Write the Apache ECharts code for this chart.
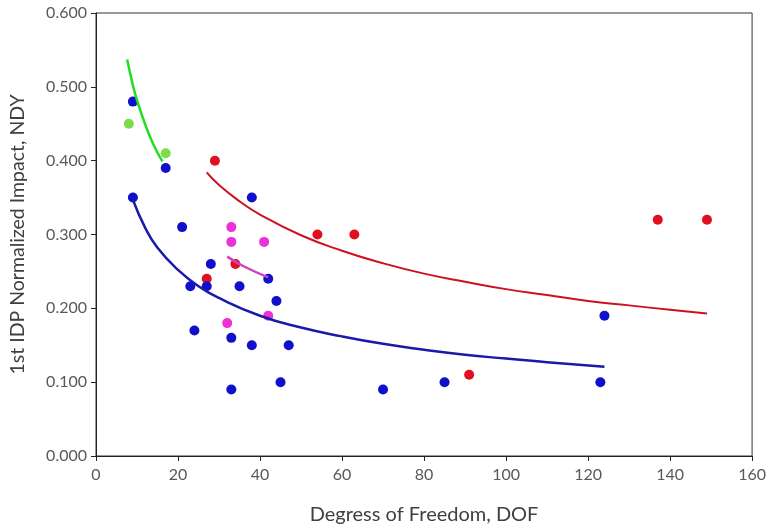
<!DOCTYPE html>
<html>
<head>
<meta charset="utf-8">
<script src="https://cdn.jsdelivr.net/npm/echarts@6/dist/echarts.min.js"></script>
<style>html,body{margin:0;padding:0;background:#fff;}#c{width:769px;height:530px;}</style>
</head>
<body>
<div id="c"></div>
<script>
// Data
const xTicks = [0, 20, 40, 60, 80, 100, 120, 140, 160];
const yTicks = [0, 0.1, 0.2, 0.3, 0.4, 0.5, 0.6];

const bluePoints = [
  [9, 0.480], [17, 0.390], [9, 0.350], [38, 0.350], [21, 0.310], [28, 0.260],
  [23, 0.230], [27, 0.230], [35, 0.230], [42, 0.240], [44, 0.210], [24, 0.170],
  [33, 0.160], [38, 0.150], [47, 0.150], [33, 0.090], [45, 0.100], [70, 0.090],
  [85, 0.100], [123, 0.100], [124, 0.190]
];
const redPoints = [
  [29, 0.400], [27, 0.240], [34, 0.260], [54, 0.300], [63, 0.300],
  [91, 0.110], [137, 0.320], [149, 0.320]
];
const magentaPoints = [
  [33, 0.310], [33, 0.290], [41, 0.290], [32, 0.180], [42, 0.190]
];
const greenPoints = [
  [8, 0.450], [17, 0.410]
];

// Trend curves
const blueCurve = [
  [9, 0.347], [12, 0.309], [15, 0.282], [20, 0.252], [25, 0.230], [30, 0.214],
  [40, 0.190], [50, 0.174], [60, 0.162], [70, 0.152], [80, 0.144], [90, 0.137],
  [100, 0.132], [110, 0.127], [124, 0.121]
];
const redCurve = [
  [27, 0.384], [30, 0.367], [35, 0.345], [40, 0.327], [50, 0.299], [60, 0.278],
  [70, 0.261], [80, 0.247], [90, 0.236], [100, 0.226], [110, 0.218], [120, 0.210],
  [130, 0.204], [140, 0.198], [149, 0.193]
];
const greenCurve = [
  [7.6, 0.537], [9, 0.502], [10, 0.482], [12, 0.449], [14, 0.422], [16.2, 0.399]
];
const magentaCurve = [
  [32, 0.270], [36, 0.257], [42, 0.242]
];

const chart = echarts.init(document.getElementById('c'), null, {renderer: 'canvas'});
const font = 'Lato, Open Sans, sans-serif';
const labelColor = '#595959';

function line(data, color, w) {
  return {type: 'line', data: data, smooth: true, showSymbol: false, symbol: 'none',
    lineStyle: {color: color, width: w}, silent: true, z: 3};
}
function dots(data, color) {
  return {type: 'scatter', data: data, symbolSize: 10, itemStyle: {color: color, opacity: 1}, z: 2};
}

chart.setOption({
  animation: false,
  backgroundColor: '#ffffff',
  grid: {left: 96, top: 13, right: 16, bottom: 69, show: true, borderColor: '#333', borderWidth: 1, backgroundColor: 'transparent'},
  xAxis: {
    type: 'value', min: xTicks[0], max: xTicks[xTicks.length - 1], interval: 20,
    name: 'Degress of Freedom, DOF', nameLocation: 'middle', nameGap: 49,
    nameTextStyle: {fontFamily: font, fontSize: 20, color: '#404040'},
    axisLine: {show: true, lineStyle: {color: '#222', width: 1}},
    axisTick: {show: true, length: 5, lineStyle: {color: '#222'}},
    axisLabel: {fontFamily: font, fontSize: 16, color: labelColor, margin: 11},
    splitLine: {show: false}
  },
  yAxis: {
    type: 'value', min: yTicks[0], max: yTicks[yTicks.length - 1], interval: 0.1,
    name: '1st IDP Normalized Impact, NDY', nameLocation: 'middle', nameGap: 68,
    nameTextStyle: {fontFamily: font, fontSize: 19.5, color: '#404040'},
    axisLine: {show: true, lineStyle: {color: '#222', width: 1}},
    axisTick: {show: true, length: 5, lineStyle: {color: '#222'}},
    axisLabel: {fontFamily: font, fontSize: 16, color: labelColor, margin: 9,
      formatter: v => v.toFixed(3)},
    splitLine: {show: false}
  },
  series: [
    dots(greenPoints, '#7ddc4a'),
    dots(magentaPoints, '#ee30d8'),
    dots(redPoints, '#e01020'),
    dots(bluePoints, '#1010cc'),
    line(greenCurve, '#22dd22', 2.5),
    line(redCurve, '#cc1122', 2),
    line(blueCurve, '#1a1aa8', 2.5),
    line(magentaCurve, '#d040c0', 2.5)
  ]
});
</script>
</body>
</html>
